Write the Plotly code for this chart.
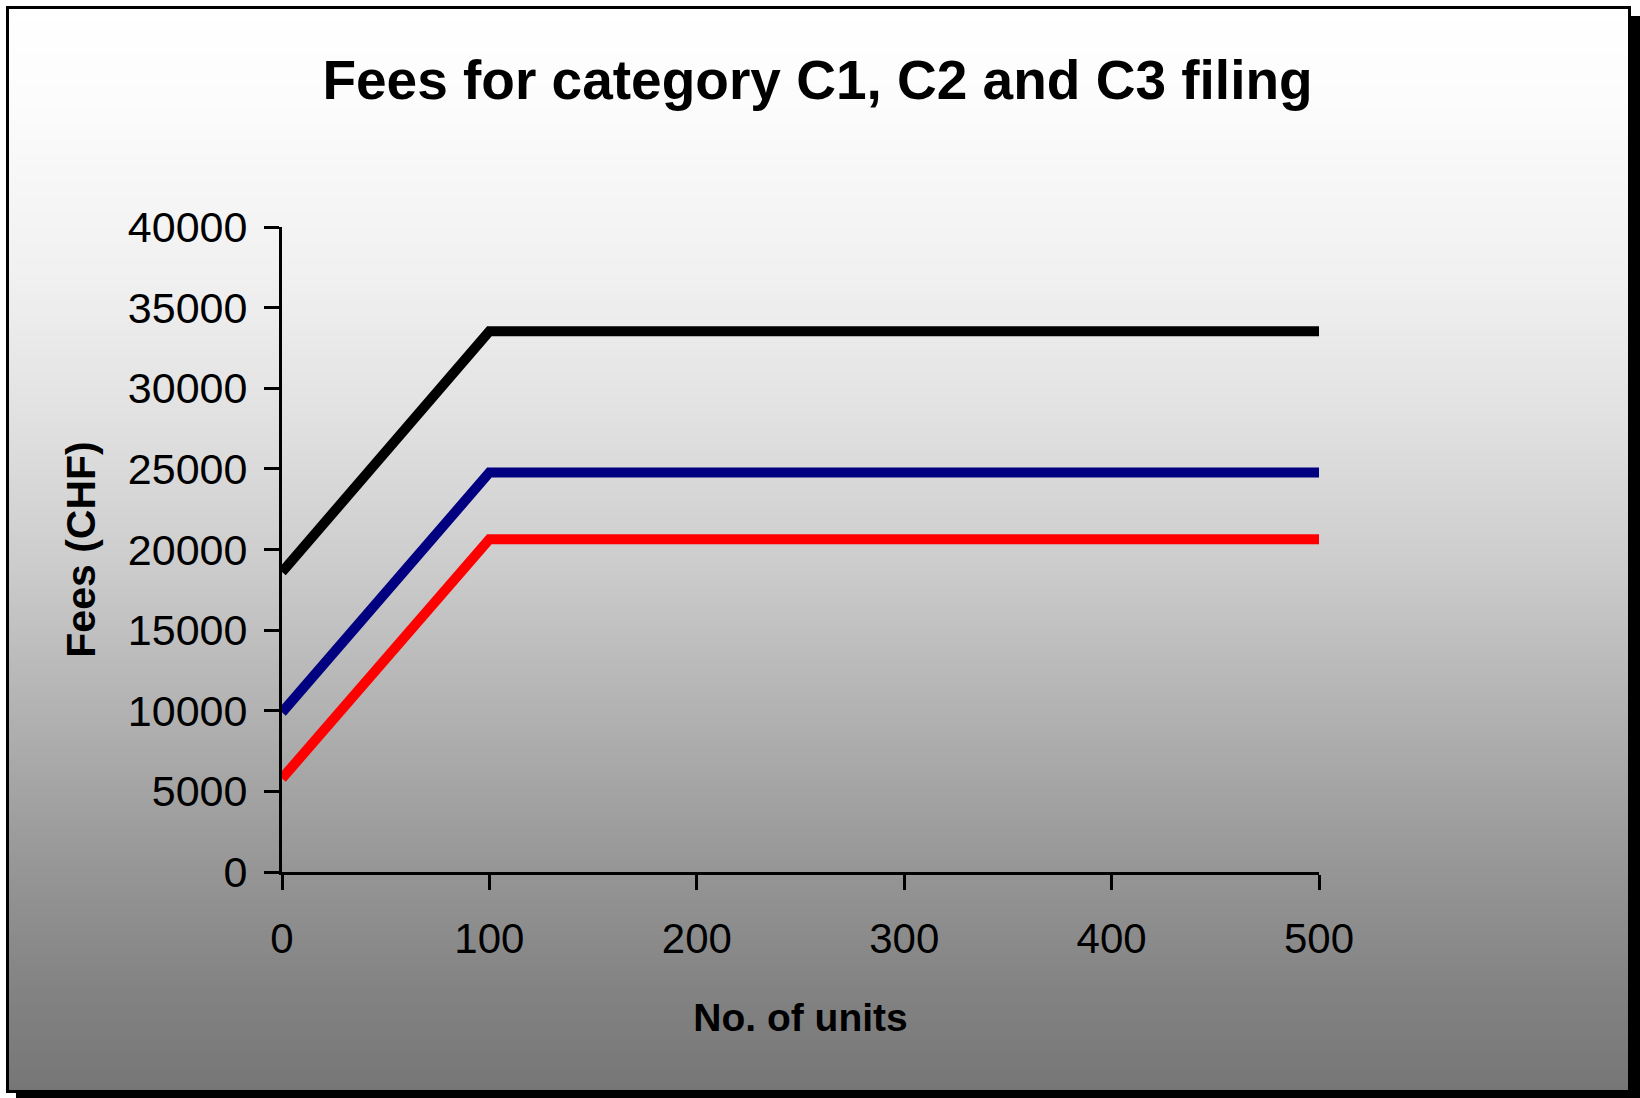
import plotly.graph_objects as go
import numpy as np

# ---- data ----
units = [0, 100, 500]
fees_black = [18600, 33530, 33530]
fees_blue = [9900, 24770, 24770]
fees_red = [5800, 20630, 20630]
x_ticks = [0, 100, 200, 300, 400, 500]
y_ticks = [0, 5000, 10000, 15000, 20000, 25000, 30000, 35000, 40000]
y_tick_labels = [str(v) for v in y_ticks]
x_tick_labels = [str(v) for v in x_ticks]

W, H = 1640, 1098
L, R, T, B = 282, 321, 227, 226
PW, PH = W - L - R, H - T - B
FONT = "Arial, Liberation Sans, sans-serif"


def px(xp):
    return (xp - L) / PW


def py(yp):
    return (H - B - yp) / PH


fig = go.Figure()
for ys, col in [(fees_black, "#000000"), (fees_blue, "#000080"), (fees_red, "#ff0000")]:
    fig.add_trace(go.Scatter(x=units, y=ys, mode="lines",
                             line=dict(color=col, width=10), showlegend=False,
                             hoverinfo="skip"))

shapes = []
# shadow
shapes.append(dict(type="rect", xref="paper", yref="paper", x0=px(16), x1=px(1645),
                   y0=py(16), y1=py(1105), fillcolor="black", line=dict(width=0), layer="below"))
# gradient fill
stops_y = [6, 100, 280, 420, 560, 700, 840, 980, 1092]
stops_g = [255, 252, 240, 225, 205, 180, 155, 132, 118]
step = 4
for y0 in range(6, 1092, step):
    y1 = min(y0 + step, 1092)
    g = int(round(np.interp((y0 + y1) / 2, stops_y, stops_g)))
    c = f"rgb({g},{g},{g})"
    shapes.append(dict(type="rect", xref="paper", yref="paper", x0=px(6), x1=px(1630),
                       y0=py(y0), y1=py(y1 + 0.6), fillcolor=c, line=dict(width=0),
                       layer="below"))
# border
shapes.append(dict(type="rect", xref="paper", yref="paper", x0=px(7.5), x1=px(1629.5),
                   y0=py(7.5), y1=py(1091.5), line=dict(color="black", width=3),
                   fillcolor="rgba(0,0,0,0)", layer="below"))

fig.update_layout(
    width=W, height=H,
    margin=dict(l=L, r=R, t=T, b=B, autoexpand=False),
    paper_bgcolor="white",
    plot_bgcolor="rgba(0,0,0,0)",
    shapes=shapes,
    font=dict(family=FONT, color="black"),
    title=dict(text="<b>Fees for category C1, C2 and C3 filing</b>",
               font=dict(family=FONT, size=55, color="black"),
               x=817.5 / W, xanchor="center", xref="container",
               y=1 - 80 / H, yanchor="middle", yref="container"),
    xaxis=dict(range=[0, 500], tickvals=x_ticks, ticktext=x_tick_labels,
               ticks="outside", ticklen=15, tickwidth=3,
               tickcolor="black", showline=True, linewidth=3, linecolor="black",
               showgrid=False, zeroline=False, tickfont=dict(size=42, family=FONT),
               ticklabelstandoff=13,
               title=dict(text="<b>No. of units</b>", font=dict(size=39, family=FONT),
                          standoff=43)),
    yaxis=dict(range=[0, 40000], tickvals=y_ticks, ticktext=y_tick_labels,
               ticks="outside", ticklen=15, tickwidth=3,
               tickcolor="black", showline=True, linewidth=3, linecolor="black",
               showgrid=False, zeroline=False, tickfont=dict(size=43, family=FONT),
               ticklabelstandoff=8,
               title=dict(text="<b>Fees (CHF)</b>", font=dict(size=41, family=FONT),
                          standoff=20)),
)

fig.write_html("out.html", config={"displayModeBar": False},
               post_script="document.body.style.margin='0';document.body.style.overflow='hidden';")
